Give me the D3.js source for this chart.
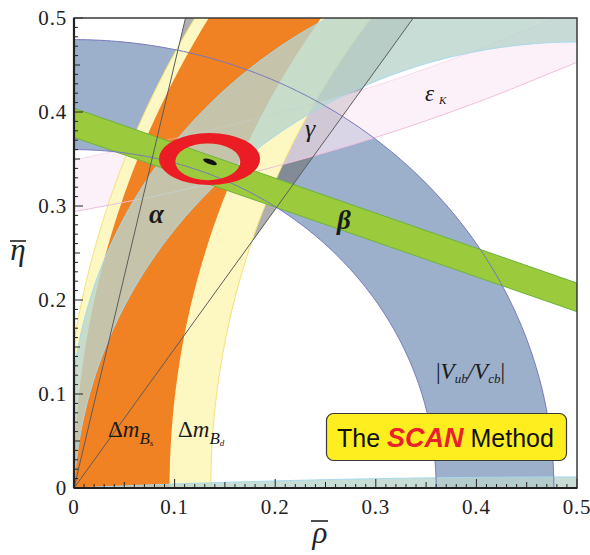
<!DOCTYPE html>
<html><head><meta charset="utf-8">
<script src="https://cdn.jsdelivr.net/npm/d3@7"></script>
<style>body{margin:0;background:#fff} .serif{font-family:"Liberation Serif","DejaVu Serif",serif}</style>
</head><body>
<svg id="c" width="590" height="555"></svg>
<script>
// ---- data ----
const xTickValues=[0,0.1,0.2,0.3,0.4,0.5];
const yTickValues=[0,0.1,0.2,0.3,0.4,0.5];
const tickLabels=["0","0.1","0.2","0.3","0.4","0.5"];
const vubRadii=[0.36,0.477];          // |Vub/Vcb| annulus about (0,0)
const dmBdRadii=[0.864,1.012];        // Δm_Bd annulus about (1,0)
const dmBsRadii=[0.905,1.0];          // Δm_Bs annulus about (1,0)
const gammaAngles=[56,77.5];          // γ wedge, degrees
const alphaAngles=[83,93];            // α band (circles through (0,0),(1,0))
const alphaAnglesLow=[177.3,180];     // second α solution
const betaUpper=[[0,0.404],[0.5,0.218]];
const betaLower=[[0,0.373],[0.5,0.1876]];
const epsLower=[[0,0.294],[0.1,0.315],[0.2,0.342],[0.3,0.373],[0.4,0.41],[0.5,0.453]];
const epsUpper=[[0,0.349],[0.1,0.372],[0.2,0.398],[0.3,0.428],[0.4,0.466],[0.5,0.51]];
const fitOuter=[0.1347,0.350,0.0502,0.0277];
const fitInner=[0.1330,0.347,0.0323,0.0195];
const fitCore=[0.1352,0.347,0.0072,0.0026];

// ---- scales ----
const x=d3.scaleLinear().domain([0,0.5]).range([74,577]);
const y=d3.scaleLinear().domain([0,0.5]).range([488,18]);
const svg=d3.select('#c');
svg.append('defs').append('clipPath').attr('id','clip').append('rect')
  .attr('x',x(0)).attr('y',y(0.5)).attr('width',x(0.5)-x(0)).attr('height',y(0)-y(0.5));
const plot=svg.append('g').attr('clip-path','url(#clip)');
const line=d3.line().x(d=>x(d[0])).y(d=>y(d[1]));
const lineC=d3.line().x(d=>x(d[0])).y(d=>y(d[1])).curve(d3.curveCatmullRom);
const N=300;
const rad=d=>d*Math.PI/180;
function arc(cx,cy,r,a0,a1){return d3.range(N+1).map(i=>{const a=a0+(a1-a0)*i/N;return [cx+r*Math.cos(a),cy+r*Math.sin(a)];});}
function annulus(cx,cy,r1,r2,a0,a1){return line(arc(cx,cy,r2,a0,a1).concat(arc(cx,cy,r1,a1,a0)))+'Z';}
function alphaArc(a){
  if(a>=180) return [[0,0],[1,0]];
  const c=0.5/Math.tan(rad(a)), r=0.5/Math.sin(rad(a));
  return arc(0.5,c,r,Math.PI+Math.atan(2*c),-Math.atan(2*c));
}

// 1. |Vub/Vcb|
plot.append('path').attr('d',annulus(0,0,vubRadii[0],vubRadii[1],0,Math.PI/2)).attr('fill','#9cb0cb');
// 2. gamma wedge
const gw=[[0,0]].concat(gammaAngles.map(a=>[2*Math.cos(rad(a)),2*Math.sin(rad(a))]));
plot.append('path').attr('d',line(gw)+'Z').attr('fill','rgb(110,110,110)').attr('fill-opacity',0.55);
// 3. eps_K
const epsD=lineC(epsLower)+'L'+lineC(epsUpper.slice().reverse()).slice(1)+'Z';
plot.append('path').attr('d',epsD).attr('fill','#fbeaf6').attr('fill-opacity',0.65);
// 4. Δm_Bd (yellow)
plot.append('path').attr('d',annulus(1,0,dmBdRadii[0],dmBdRadii[1],Math.PI/2,Math.PI)).attr('fill','#fdf7c2')
  .attr('stroke','#f3e27a').attr('stroke-width',1);
// 5. Δm_Bs (orange)
plot.append('path').attr('d',annulus(1,0,dmBsRadii[0],dmBsRadii[1],Math.PI/2,Math.PI)).attr('fill','#f18224');
// eps edges
[epsLower,epsUpper].forEach((e,i)=>plot.append('path').attr('d',lineC(e)).attr('fill','none')
  .attr('stroke','#f1bddb').attr('stroke-width',1).attr('stroke-opacity',i?0.5:1));
// 6. alpha
plot.append('path').attr('d',line(alphaArc(alphaAngles[0]).concat(alphaArc(alphaAngles[1]).reverse()))+'Z')
  .attr('fill','rgb(186,212,204)').attr('fill-opacity',0.8);
plot.append('path').attr('d',line(alphaArc(alphaAnglesLow[0]).concat(alphaArc(alphaAnglesLow[1]).reverse()))+'Z')
  .attr('fill','rgb(186,212,204)').attr('fill-opacity',0.8);
[alphaAngles[0],alphaAngles[1],alphaAnglesLow[0]].forEach(a=>plot.append('path').attr('d',line(alphaArc(a)))
  .attr('fill','none').attr('stroke','#a6d9ee').attr('stroke-width',1));
// 7. beta
plot.append('path').attr('d',line(betaUpper.concat(betaLower.slice().reverse()))+'Z')
  .attr('fill','#9bcb3c').attr('stroke','#6db33b').attr('stroke-width',1);
// 8. Vub edges
vubRadii.forEach(r=>plot.append('path').attr('d',line(arc(0,0,r,0,Math.PI/2))).attr('fill','none')
  .attr('stroke','#7676bd').attr('stroke-width',1));
// 9. gamma lines
gammaAngles.forEach(a=>plot.append('path').attr('d',line([[0,0],[2*Math.cos(rad(a)),2*Math.sin(rad(a))]]))
  .attr('fill','none').attr('stroke','#5c5c5c').attr('stroke-width',1));
// 10. fit ring
function ell(p){const cx=x(p[0]),cy=y(p[1]),rx=x(p[0]+p[2])-x(p[0]),ry=y(p[1])-y(p[1]+p[3]);
  return `M${cx+rx},${cy}A${rx},${ry} 0 1 0 ${cx-rx},${cy}A${rx},${ry} 0 1 0 ${cx+rx},${cy}Z`;}
plot.append('path').attr('d',ell(fitOuter)+ell(fitInner)).attr('fill','#ec1c24').attr('fill-rule','evenodd');
plot.append('path').attr('d',ell(fitCore)).attr('fill','#111')
  .attr('transform',`rotate(20,${x(fitCore[0])},${y(fitCore[1])})`);

// ---- axes ----
const ax=svg.append('g').attr('stroke','#222').attr('stroke-width',1);
d3.range(0,51).forEach(i=>{
  const v=i/100, len=i%10===0?9:(i%5===0?6:4);
  ax.append('line').attr('x1',x(v)).attr('x2',x(v)).attr('y1',y(0)).attr('y2',y(0)-len);
  ax.append('line').attr('y1',y(v)).attr('y2',y(v)).attr('x1',x(0)).attr('x2',x(0)+len);
});
svg.append('rect').attr('x',x(0)).attr('y',y(0.5)).attr('width',x(0.5)-x(0)).attr('height',y(0)-y(0.5))
  .attr('fill','none').attr('stroke','#3a3a3a').attr('stroke-width',1.5);
svg.append('line').attr('x1',x(0)).attr('x2',x(0.5)).attr('y1',y(0)).attr('y2',y(0)).attr('stroke','#222').attr('stroke-width',2.2);
svg.append('line').attr('x1',x(0)).attr('x2',x(0)).attr('y1',y(0)).attr('y2',y(0.5)).attr('stroke','#222').attr('stroke-width',2.2);
xTickValues.forEach((v,i)=>svg.append('text').attr('class','serif').attr('x',x(v)).attr('y',514).attr('text-anchor','middle')
  .attr('font-size',21).attr('letter-spacing',0.8).attr('fill','#222').text(tickLabels[i]));
yTickValues.forEach((v,i)=>svg.append('text').attr('class','serif').attr('x',67).attr('y',y(v)+6.5).attr('text-anchor','end')
  .attr('font-size',21).attr('letter-spacing',0.8).attr('fill','#222').text(tickLabels[i]));
// axis titles
svg.append('text').attr('class','serif').attr('x',18).attr('y',260).attr('text-anchor','middle').attr('font-style','italic')
  .attr('font-size',31).attr('fill','#222').text('η');
svg.append('line').attr('x1',10).attr('x2',26).attr('y1',241).attr('y2',241).attr('stroke','#222').attr('stroke-width',1.6);
svg.append('text').attr('class','serif').attr('x',320).attr('y',543).attr('text-anchor','middle').attr('font-style','italic')
  .attr('font-size',31).attr('fill','#222').text('ρ');
svg.append('line').attr('x1',311).attr('x2',328).attr('y1',521).attr('y2',521).attr('stroke','#222').attr('stroke-width',1.6);

// ---- labels ----
const T=(px,py,size,txt,style,weight)=>svg.append('text').attr('class','serif').attr('x',px).attr('y',py)
  .attr('font-size',size).attr('font-style',style||'normal').attr('font-weight',weight||'normal').attr('fill','#1a1a1a').text(txt);
T(149,223,27,'α','italic','bold');
T(337,229,27,'β','italic','bold');
T(305,137,26,'γ','italic');
T(425,101,23,'ε','italic');
T(439,104,11,'K','italic');
// |Vub/Vcb|
const vt=svg.append('text').attr('class','serif').attr('x',436).attr('y',379).attr('font-size',23).attr('fill','#1a1a1a');
vt.append('tspan').text('|');
vt.append('tspan').attr('font-style','italic').text('V');
vt.append('tspan').attr('font-style','italic').attr('font-size',13).attr('dy',4).text('ub');
vt.append('tspan').attr('font-style','italic').attr('dy',-4).text('/V');
vt.append('tspan').attr('font-style','italic').attr('font-size',13).attr('dy',4).text('cb');
vt.append('tspan').attr('dy',-4).text('|');
// Δm labels
function dm(px,sub){
  const t=svg.append('text').attr('class','serif').attr('x',px).attr('y',437).attr('font-size',23).attr('fill','#1a1a1a');
  t.append('tspan').text('Δ');
  t.append('tspan').attr('font-style','italic').text('m');
  t.append('tspan').attr('font-style','italic').attr('font-size',17).attr('dy',7).text('B');
  t.append('tspan').attr('font-style','italic').attr('font-size',9).attr('dy',2).text(sub);
}
dm(108,'s'); dm(178,'d');
// legend box
svg.append('rect').attr('x',326.5).attr('y',413.5).attr('width',240).attr('height',47).attr('rx',7)
  .attr('fill','#ffee1f').attr('stroke','#3a3a3a').attr('stroke-width',1.2);
const lt=svg.append('text').attr('x',337).attr('y',447).attr('font-family',"Liberation Sans, Arial, sans-serif")
  .attr('font-size',25).attr('fill','#111');
lt.append('tspan').text('The ');
lt.append('tspan').attr('fill','#e8212a').attr('font-weight','bold').attr('font-style','italic').attr('font-size',27).text('SCAN');
lt.append('tspan').text(' Method');
</script>
</body></html>
